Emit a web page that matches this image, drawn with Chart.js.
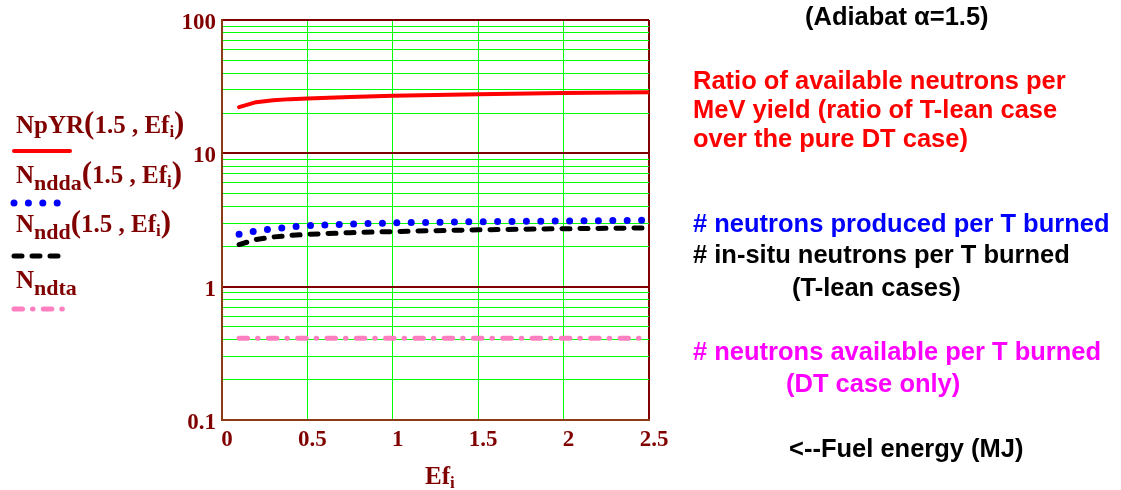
<!DOCTYPE html>
<html>
<head>
<meta charset="utf-8">
<script src="https://cdn.jsdelivr.net/npm/chart.js@4/dist/chart.umd.min.js"></script>
<style>
  html, body { margin: 0; padding: 0; background: #ffffff; }
  canvas { display: block; }
</style>
</head>
<body>
<canvas id="chart" width="1121" height="490"></canvas>
<script>
// Fuel energy Ef_i (MJ) and the four curves for adiabat alpha = 1.5
const fuelEnergy = [0.1, 0.2, 0.3, 0.4, 0.5, 0.75, 1.0, 1.25, 1.5, 2.0, 2.5];
const npYR       = [22.2, 24.2, 25.0, 25.5, 25.8, 26.5, 27.0, 27.4, 27.8, 28.3, 28.7];
const nNdda      = [2.47, 2.62, 2.72, 2.80, 2.87, 2.95, 3.01, 3.04, 3.07, 3.11, 3.15];
const nNdd       = [2.07, 2.26, 2.36, 2.42, 2.47, 2.54, 2.59, 2.63, 2.67, 2.72, 2.76];
const nNdta      = [0.41, 0.41, 0.41, 0.41, 0.41, 0.41, 0.41, 0.41, 0.41, 0.41, 0.41];

const xTickLabels = ['0', '0.5', '1', '1.5', '2', '2.5'];
const yTickLabels = ['0.1', '1', '10', '100'];
const yDecades    = [0.1, 1, 10, 100];

const AXIS_RED = '#800000';
const GRID_GREEN = '#00ff00';
const AXIS_BROWN = '#8b3c14';

// log grid: every 1..9 multiple inside each decade
const yGridValues = [];
for (let d = 0; d < yDecades.length - 1; d++) {
  for (let m = 1; m < 10; m++) yGridValues.push(parseFloat((m * yDecades[d]).toPrecision(3)));
}
yGridValues.push(yDecades[yDecades.length - 1]);

function decadeIndex(v) {
  for (let i = 0; i < yDecades.length; i++) {
    if (Math.abs(v - yDecades[i]) < 1e-9 * yDecades[i]) return i;
  }
  return -1;
}

function pts(ys) { return fuelEnergy.map((x, i) => ({ x: x, y: ys[i] })); }

const datasets = [
  { label: 'NpYR', data: pts(npYR), borderColor: '#ff0000', borderWidth: 4,
    borderCapStyle: 'round', borderJoinStyle: 'round' },
  { label: 'Nndda', data: pts(nNdda), borderColor: '#0000ff', borderWidth: 7,
    borderDash: [0, 14.4], borderCapStyle: 'round' },
  { label: 'Nndd', data: pts(nNdd), borderColor: '#000000', borderWidth: 5,
    borderDash: [8, 10], borderCapStyle: 'round' },
  { label: 'Nndta', data: pts(nNdta), borderColor: '#ff80c0', borderWidth: 5,
    borderDash: [8.5, 10, 0.5, 10.3], borderCapStyle: 'round' }
];
datasets.forEach(d => { d.pointRadius = 0; d.fill = false; d.tension = 0; });

// draw a run of text pieces; each piece: [text, fontSize, dy, family]
function drawRich(ctx, x, baseline, pieces, color) {
  ctx.save();
  ctx.fillStyle = color;
  ctx.textBaseline = 'alphabetic';
  ctx.textAlign = 'left';
  let cx = x;
  for (const p of pieces) {
    const fam = p[3] || '"Liberation Serif", "Times New Roman", serif';
    ctx.font = 'bold ' + p[1] + 'px ' + fam;
    ctx.fillText(p[0], cx, baseline + (p[2] || 0));
    cx += ctx.measureText(p[0]).width;
  }
  ctx.restore();
}

function drawSample(ctx, ds, x0, x1, y) {
  ctx.save();
  ctx.strokeStyle = ds.borderColor;
  ctx.lineWidth = ds.borderWidth;
  ctx.lineCap = ds.borderCapStyle || 'butt';
  ctx.setLineDash(ds.borderDash || []);
  ctx.beginPath();
  ctx.moveTo(x0, y);
  ctx.lineTo(x1, y);
  ctx.stroke();
  ctx.restore();
}

const SANS = '"Liberation Sans", Arial, sans-serif';
const notes = [
  { lines: [['(Adiabat \u03b1=1.5)', 805, 25]], color: '#000000' },
  { lines: [['Ratio of available neutrons per', 693, 89],
            ['MeV yield (ratio of T-lean case', 693, 118],
            ['over the pure DT case)', 693, 147]], color: '#ff0000' },
  { lines: [['# neutrons produced per T burned', 693, 232]], color: '#0000ff' },
  { lines: [['# in-situ neutrons per T burned', 693, 263],
            ['(T-lean cases)', 792, 296]], color: '#000000' },
  { lines: [['# neutrons available per T burned', 693, 360],
            ['(DT case only)', 786, 392]], color: '#ff00ff' },
  { lines: [['<--Fuel energy (MJ)', 789, 457]], color: '#000000' }
];

const decorations = {
  id: 'decorations',
  afterDraw(chart) {
    const ctx = chart.ctx;
    const sets = chart.data.datasets;

    // function-style legend on the left
    const args = [['(', 31, 0], ['1.5', 25, 0], [' , ', 25, 0], ['Ef', 25, 0], ['i', 17, 4], [')', 31, 0]];
    drawRich(ctx, 16, 133, [['NpYR', 25, 0]].concat(args), AXIS_RED);
    drawSample(ctx, sets[0], 14, 70, 151);
    drawRich(ctx, 16, 183, [['N', 25, 0], ['ndda', 22, 7]].concat(args), AXIS_RED);
    drawSample(ctx, sets[1], 14, 61, 203);
    drawRich(ctx, 16, 232, [['N', 25, 0], ['ndd', 22, 7]].concat(args), AXIS_RED);
    drawSample(ctx, sets[2], 14, 63, 256);
    drawRich(ctx, 16, 288, [['N', 25, 0], ['ndta', 22, 7]], AXIS_RED);
    drawSample(ctx, sets[3], 14, 63, 309);

    // x axis title
    drawRich(ctx, 425, 484, [['Ef', 25, 0], ['i', 17, 4]], AXIS_RED);

    // side notes
    ctx.save();
    ctx.font = 'bold 25.5px ' + SANS;
    ctx.textBaseline = 'alphabetic';
    for (const n of notes) {
      ctx.fillStyle = n.color;
      for (const l of n.lines) ctx.fillText(l[0], l[1], l[2]);
    }
    ctx.restore();
  }
};

const tickFont = { family: '"Liberation Serif", "Times New Roman", serif', size: 23, weight: 'bold' };

new Chart(document.getElementById('chart'), {
  type: 'line',
  data: { datasets: datasets },
  options: {
    responsive: false,
    animation: false,
    devicePixelRatio: 1,
    layout: { padding: { left: 0, top: 20, right: 472, bottom: 0 } },
    plugins: { legend: { display: false }, tooltip: { enabled: false } },
    scales: {
      x: {
        type: 'linear',
        min: 0, max: 2.5,
        afterFit(scale) { scale.height = 70; },
        ticks: {
          stepSize: 0.5, autoSkip: false, maxRotation: 0,
          padding: 6, labelOffset: 5,
          color: AXIS_RED, font: tickFont,
          callback: (v, i) => xTickLabels[i]
        },
        grid: {
          drawTicks: false,
          color: c => (c.tick && Math.abs(c.tick.value - 2.5) < 1e-9) ? AXIS_RED : GRID_GREEN,
          lineWidth: c => (c.tick && Math.abs(c.tick.value - 2.5) < 1e-9) ? 2 : 1
        },
        border: { color: AXIS_BROWN, width: 2 }
      },
      y: {
        type: 'logarithmic',
        min: 0.1, max: 100,
        afterFit(scale) { scale.width = 222; },
        afterBuildTicks(scale) { scale.ticks = yGridValues.map(v => ({ value: v })); },
        ticks: {
          autoSkip: false, padding: 6, labelOffset: 3,
          color: AXIS_RED, font: tickFont,
          callback: v => { const k = decadeIndex(v); return k >= 0 ? yTickLabels[k] : ''; }
        },
        grid: {
          drawTicks: false,
          color: c => (c.tick && decadeIndex(c.tick.value) >= 0) ? AXIS_RED : GRID_GREEN,
          lineWidth: c => (c.tick && decadeIndex(c.tick.value) >= 0) ? 2 : 1
        },
        border: { color: AXIS_BROWN, width: 2 }
      }
    }
  },
  plugins: [decorations]
});
</script>
</body>
</html>
